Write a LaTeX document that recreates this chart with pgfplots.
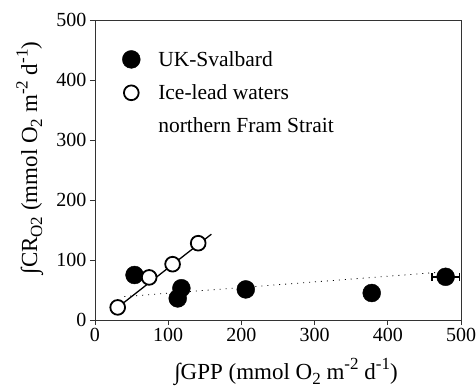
\documentclass[border=0pt]{standalone}
\usepackage{fontspec}
\setmainfont{Liberation Serif}
\usepackage{pgfplots}
\pgfplotsset{compat=1.18}
\newcommand\sub[1]{\raisebox{-0.22em}{\fontsize{17bp}{17bp}\selectfont #1}}
\newcommand\sups[1]{\raisebox{0.42em}{\fontsize{17bp}{17bp}\selectfont #1}}
\begin{document}
\begin{tikzpicture}
\begin{axis}[
  scale only axis, width=366bp, height=300bp,
  xmin=0, xmax=500, ymin=0, ymax=500,
  xtick={0,100,...,500}, ytick={0,100,...,500},
  tick align=outside, xtick pos=bottom, ytick pos=left,
  major tick length=5bp,
  axis line style={line width=0.9pt, black!80},
  tick style={line width=0.9pt, black!80},
  /pgf/number format/assume math mode=true,
  tick label style={font=\fontsize{20bp}{24bp}\selectfont},
  label style={font=\fontsize{23bp}{27bp}\selectfont},
  xlabel={∫GPP (mmol O\sub{2} m\sups{-2} d\sups{-1})},
  ylabel={∫CR\sub{O2} (mmol O\sub{2} m\sups{-2} d\sups{-1})},
  xlabel style={at={(axis description cs:0.522,-0.197)}, anchor=base},
  ylabel style={at={(axis description cs:-0.158,0.54)}, anchor=base},
  legend style={draw=none, fill=none, at={(axis cs:33,455)}, anchor=north west,
    font=\fontsize{21.5bp}{25bp}\selectfont, row sep=13bp,
    /tikz/every odd column/.append style={column sep=16bp}},
  legend cell align=left,
]
% dotted regression line (UK-Svalbard)
\addplot[black, line width=0.8pt, dash pattern=on 1pt off 5pt, forget plot] coordinates {(40,39) (475,80)};
% UK-Svalbard filled circles
\addplot[only marks, mark=*, mark size=9pt, black, mark options={fill=black},
  error bars/.cd, x dir=both, x explicit,
  error bar style={line width=1.6pt, black},
  error mark options={rotate=90, mark size=4pt, line width=1.6pt, black}]
  coordinates {
  (54,75) +- (0,0)
  (113,36) +- (0,0)
  (118,53) +- (0,0)
  (206,51) +- (0,0)
  (378,45) +- (0,0)
  (479,72) +- (19,0)
  };
\addlegendentry{UK-Svalbard}
% Ice-lead waters open circles
\addplot[only marks, mark=*, mark size=7.4pt, black, mark options={fill=white, line width=1.8pt}]
  coordinates {(31,21) (74,71) (106,93) (141,128)};
\addlegendentry{Ice-lead waters}
% solid regression line
\addplot[black, line width=1.3pt, forget plot] coordinates {(31,21) (159,143)};
\addlegendimage{empty legend}
\addlegendentry{northern Fram Strait}
\end{axis}
\pgfresetboundingbox
\useasboundingbox (-95bp,-69bp) rectangle (381bp,320bp);
\end{tikzpicture}
\end{document}
